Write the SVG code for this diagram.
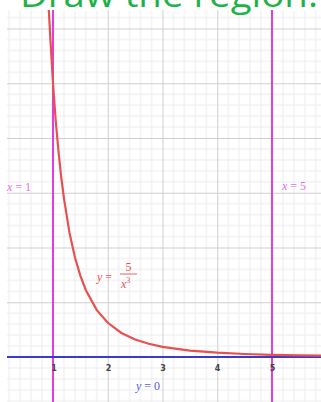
<svg xmlns="http://www.w3.org/2000/svg" width="321" height="402" viewBox="0 0 321 402">
  <style>
    .minor { stroke: #ececec; stroke-width: 1; }
    .major { stroke: #cfcfcf; stroke-width: 1; }
    .vline { stroke: #e03ee0; stroke-width: 2; }
    .axis { stroke: #3a3ad0; stroke-width: 2; }
    .curve { fill: none; stroke: #e85050; stroke-width: 2.2; }
    .tick { font-family: "DejaVu Sans", sans-serif; font-size: 8px; font-weight: bold; fill: #444; text-anchor: middle; }
    .math { font-family: "Liberation Serif", "DejaVu Serif", serif; font-size: 12px; }
  </style>
  <defs>
    <pattern id="grid" patternUnits="userSpaceOnUse" x="-1.75" y="357" width="54.75" height="54.75">
      <g class="minor">
        <line x1="10.95" y1="0" x2="10.95" y2="54.75"/>
        <line x1="21.9" y1="0" x2="21.9" y2="54.75"/>
        <line x1="32.85" y1="0" x2="32.85" y2="54.75"/>
        <line x1="43.8" y1="0" x2="43.8" y2="54.75"/>
        <line x1="0" y1="10.95" x2="54.75" y2="10.95"/>
        <line x1="0" y1="21.9" x2="54.75" y2="21.9"/>
        <line x1="0" y1="32.85" x2="54.75" y2="32.85"/>
        <line x1="0" y1="43.8" x2="54.75" y2="43.8"/>
      </g>
      <g class="major">
        <line x1="0.5" y1="0" x2="0.5" y2="54.75"/>
        <line x1="0" y1="0.5" x2="54.75" y2="0.5"/>
      </g>
    </pattern>
  </defs>
  <rect width="321" height="402" fill="#ffffff"/>
  <g id="grid-area">
    <rect x="7" y="10" width="314" height="392" fill="url(#grid)"/>
  </g>
  <g id="title">
    <text x="20" y="7" font-family="'Open Sans', 'DejaVu Sans', sans-serif" font-size="34" fill="#1fb14a" textLength="298" lengthAdjust="spacingAndGlyphs">Draw the region.</text>
  </g>
  <g id="connectors">
    <line id="line-x1" class="vline" x1="53" y1="10" x2="53" y2="402"/>
    <line id="line-x5" class="vline" x1="272" y1="10" x2="272" y2="402"/>
    <line id="line-y0" class="axis" x1="7" y1="357" x2="321" y2="357"/>
    <path id="curve" class="curve" d="M48.8,10 L50.3,37.6 L53,83.3 L55.7,120.5 L58.5,151.3 L61.2,177 L64,198.6 L69.4,232.4 L74.9,257.2 L80.4,275.9 L85.9,290.2 L96.8,310.1 L107.8,322.8 L121.4,333 L135.1,339.5 L148.8,343.8 L162.5,346.9 L189.9,350.6 L217.3,352.7 L244.6,354 L272,354.8 L299.4,355.3 L321.3,355.7"/>
  </g>
  <g id="ticks">
    <text class="tick" x="54" y="371">1</text>
    <text class="tick" x="108.5" y="371">2</text>
    <text class="tick" x="163" y="371">3</text>
    <text class="tick" x="217.5" y="371">4</text>
    <text class="tick" x="272.5" y="371">5</text>
  </g>
  <g id="label-x1">
    <text class="math" x="7" y="191" font-size="13" fill="#e070e0"><tspan font-style="italic">x</tspan> = 1</text>
  </g>
  <g id="label-x5">
    <text class="math" x="282" y="190" font-size="13" fill="#e070e0"><tspan font-style="italic">x</tspan> = 5</text>
  </g>
  <g id="label-curve" fill="#e85050">
    <text class="math" x="97" y="281" font-size="13"><tspan font-style="italic">y</tspan> =</text>
    <text class="math" x="128.5" y="271" font-size="12" text-anchor="middle">5</text>
    <line x1="120" y1="274" x2="137" y2="274" stroke="#e85050" stroke-width="0.9"/>
    <text class="math" x="121" y="288" font-size="12"><tspan font-style="italic">x</tspan><tspan dy="-5" font-size="8">3</tspan></text>
  </g>
  <g id="label-y0">
    <text class="math" x="136" y="390" font-size="14" fill="#5a5ad8"><tspan font-style="italic">y</tspan> = 0</text>
  </g>
</svg>
